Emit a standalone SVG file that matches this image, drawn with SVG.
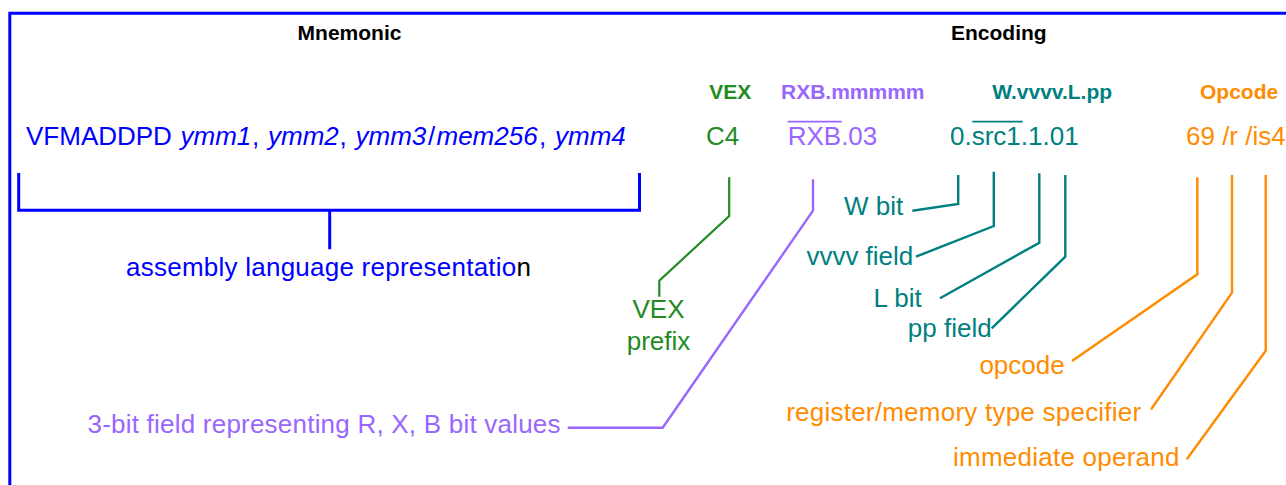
<svg xmlns="http://www.w3.org/2000/svg" width="1286" height="485" viewBox="0 0 1286 485">
  <style>
    text { font-family: "Liberation Sans", Arial, Helvetica, sans-serif; font-size: 26px; }
    .hdr { font-weight: bold; font-size: 21px; }
    .it { font-style: italic; }
    .blue { fill: #0000FF; }
    .green { fill: #228B22; }
    .purple { fill: #9966FF; }
    .teal { fill: #008080; }
    .orange { fill: #FF8C00; }
    .black { fill: #000000; }
    .ln { fill: none; stroke-linejoin: miter; stroke-linecap: butt; }
    .ln-blue { stroke: #0000FF; stroke-width: 3; }
    .ln-green { stroke: #228B22; stroke-width: 2.2; }
    .ln-purple { stroke: #9966FF; stroke-width: 2.4; }
    .ln-teal { stroke: #008080; stroke-width: 2.4; }
    .ln-orange { stroke: #FF8C00; stroke-width: 2.4; }
    .bar-purple { stroke: #9966FF; stroke-width: 1.8; }
    .bar-teal { stroke: #008080; stroke-width: 1.8; }
  </style>
  <rect width="1286" height="485" fill="#FFFFFF"/>

  <!-- frame -->
  <g id="frame">
    <path class="ln ln-blue" d="M9.8,12 V485 M8.5,13.3 H1286"/>
  </g>

  <!-- column headings -->
  <g id="headings">
    <text class="hdr black" x="349.5" y="40" text-anchor="middle">Mnemonic</text>
    <text class="hdr black" x="951" y="40">Encoding</text>
  </g>

  <!-- mnemonic -->
  <g id="mnemonic">
    <text class="blue" y="145"><tspan x="26">VFMADDPD</tspan><tspan class="it" x="180.5">ymm1</tspan><tspan x="252">,</tspan><tspan class="it" x="268">ymm2</tspan><tspan x="339.5">,</tspan><tspan class="it" x="355.5">ymm3</tspan><tspan x="428">/</tspan><tspan class="it" x="436.5">mem256</tspan><tspan x="539">,</tspan><tspan class="it" x="555">ymm4</tspan></text>
  </g>

  <!-- encoding fields -->
  <g id="field-vex">
    <text class="hdr green" x="709.3" y="99">VEX</text>
    <text class="green" x="706" y="145">C4</text>
  </g>
  <g id="field-rxb">
    <text class="hdr purple" x="781" y="99">RXB.mmmmm</text>
    <text class="purple" x="787.7" y="145">RXB.03</text>
    <path class="ln bar-purple" d="M787.7,121.6 H841.7"/>
  </g>
  <g id="field-wvvvv">
    <text class="hdr teal" x="992.3" y="99">W.vvvv.L.pp</text>
    <text class="teal" x="950" y="145">0.src1.1.01</text>
    <path class="ln bar-teal" d="M972.3,121.6 H1022.7"/>
  </g>
  <g id="field-opcode">
    <text class="hdr orange" x="1200" y="99">Opcode</text>
    <text class="orange" x="1186" y="145">69 /r /is4</text>
  </g>

  <!-- leader lines -->
  <g id="connectors">
    <path class="ln ln-blue" d="M18.7,173 V210.3 H639.5 V173 M329.7,210.3 V249.3"/>
    <path class="ln ln-green" d="M729.2,177.3 V216 L659.3,280.7 V296.7"/>
    <path class="ln ln-purple" d="M813,179.3 V210.7 L662.7,427.7 H567.7"/>
    <path class="ln ln-teal" d="M958.2,175 V204 L912.3,210.7"/>
    <path class="ln ln-teal" d="M993.8,171.7 V226 L916,256.7"/>
    <path class="ln ln-teal" d="M1039.3,173.3 V242.7 L940,298.3"/>
    <path class="ln ln-teal" d="M1065.3,175 V256.7 L991.7,328.3"/>
    <path class="ln ln-orange" d="M1197.3,177.3 V274.3 L1072,360.9"/>
    <path class="ln ln-orange" d="M1232,175 V292.7 L1151,409.5"/>
    <path class="ln ln-orange" d="M1265.7,175 V350.8 L1186.8,459.2"/>
  </g>

  <!-- annotations -->
  <g id="label-assembly">
    <text class="blue" x="126" y="276" textLength="405">assembly language representatio<tspan class="black">n</tspan></text>
  </g>
  <g id="label-vex-prefix">
    <text class="green" x="658.5" y="318.3" text-anchor="middle">VEX</text>
    <text class="green" x="658.5" y="350" text-anchor="middle">prefix</text>
  </g>
  <g id="label-rxb">
    <text class="purple" x="87.5" y="433.3" textLength="473">3-bit field representing R, X, B bit values</text>
  </g>
  <g id="label-w">
    <text class="teal" x="903.3" y="215" text-anchor="end">W bit</text>
  </g>
  <g id="label-vvvv">
    <text class="teal" x="913.3" y="265" text-anchor="end">vvvv field</text>
  </g>
  <g id="label-l">
    <text class="teal" x="921.7" y="306.7" text-anchor="end">L bit</text>
  </g>
  <g id="label-pp">
    <text class="teal" x="991.7" y="336.7" text-anchor="end">pp field</text>
  </g>
  <g id="label-opcode">
    <text class="orange" x="1064.7" y="373.6" text-anchor="end">opcode</text>
  </g>
  <g id="label-regmem">
    <text class="orange" x="786.2" y="421.3" textLength="355">register/memory type specifier</text>
  </g>
  <g id="label-imm">
    <text class="orange" x="953" y="465.9" textLength="226.5">immediate operand</text>
  </g>
</svg>
